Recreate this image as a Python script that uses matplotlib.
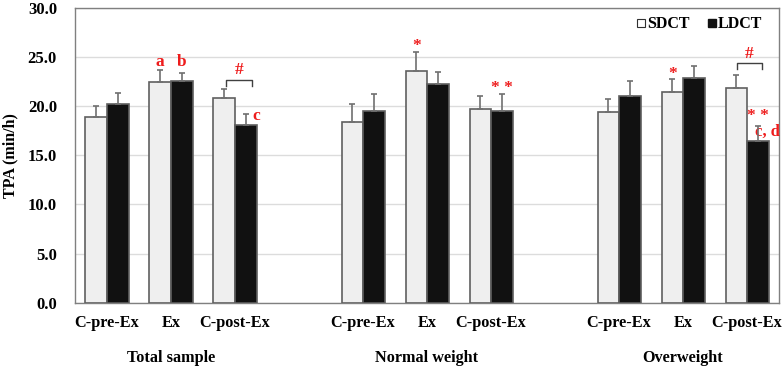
import matplotlib.pyplot as plt
import numpy as np
from matplotlib.lines import Line2D

plt.rcParams['font.family'] = ['Liberation Serif', 'DejaVu Serif']
plt.rcParams['font.weight'] = 'bold'

groups = ['Total sample', 'Normal weight', 'Overweight']
conditions = ['C-pre-Ex', 'Ex', 'C-post-Ex']

sdct_mean = [18.9, 22.5, 20.8, 18.4, 23.6, 19.7, 19.4, 21.45, 21.85]
sdct_err = [1.1, 1.15, 0.95, 1.8, 1.9, 1.4, 1.35, 1.3, 1.3]
ldct_mean = [20.2, 22.6, 18.05, 19.5, 22.3, 19.5, 21.0, 22.9, 16.5]
ldct_err = [1.2, 0.8, 1.15, 1.75, 1.2, 1.8, 1.6, 1.2, 1.45]

# slot positions: three conditions per group, one empty slot between groups
pos = np.array([g * 4 + c for g in range(3) for c in range(3)], dtype=float)
w = 0.336

fig = plt.figure(figsize=(7.82, 3.69), dpi=100)
ax = fig.add_axes([0.0959, 0.1797, 0.9003, 0.7983])

edge = '#606060'
err_kw = dict(ecolor='#707070', elinewidth=1.2, capsize=2.5, capthick=1.2)
ax.bar(pos - w / 2, sdct_mean, w, color='#efefef', edgecolor=edge, linewidth=1.2,
       yerr=[np.zeros(9), sdct_err], error_kw=err_kw, zorder=3)
ax.bar(pos + w / 2, ldct_mean, w, color='#111111', edgecolor=edge, linewidth=1.2,
       yerr=[np.zeros(9), ldct_err], error_kw=err_kw, zorder=3)

ax.set_xlim(-0.5, 10.5)
ax.set_ylim(0, 30)
ax.set_yticks(np.arange(0, 30.1, 5))
ax.set_yticklabels(['%.1f' % v for v in np.arange(0, 30.1, 5)])
ax.yaxis.grid(True, color='#dcdcdc', linewidth=1.0, zorder=0)
ax.set_axisbelow(True)
ax.set_xticks(pos)
ax.set_xticklabels(conditions * 3)
ax.tick_params(axis='y', length=0, pad=13, labelsize=12)
ax.tick_params(axis='x', length=0, pad=9, labelsize=11.7)
for s in ax.spines.values():
    s.set_color('#808080')
    s.set_linewidth(1.0)

for g, name in enumerate(groups):
    ax.text(g * 4 + 1, -0.187, name, transform=ax.get_xaxis_transform(),
            ha='center', va='center', fontsize=11.7, fontweight='bold')

ax.set_ylabel('TPA (min/h)', fontsize=11.5, fontweight='bold')
ax.yaxis.set_label_coords(-0.081, 0.5)

red = '#ee1c1c'
ann = dict(color=red, fontweight='bold', fontsize=12.5, ha='center', va='center')
ax.text(1 - w / 2, 24.5, 'a', **ann)
ax.text(1 + w / 2, 24.5, 'b', **ann)
ax.text(2.27, 19.0, 'c', **dict(ann, ha='left'))
ax.text(5 - w / 2, 26.1, '*', **ann)
ax.text(6 + w / 2, 21.9, '* *', **ann)
ax.text(9 - w / 2, 23.3, '*', **ann)
ax.text(10.17, 19.0, '* *', **ann)
ax.text(10.13, 17.4, 'c, d', **dict(ann, ha='left', fontsize=12))

# brackets for '#'
for x0, x1, y0, xt in [(1.855, 2.26, 22.7, 2.06), (9.84, 10.24, 24.4, 10.03)]:
    ax.plot([x0, x0, x1, x1], [y0 - 0.6, y0, y0, y0 - 0.6],
            color='#404040', linewidth=1.0, zorder=4)
    ax.text(xt, y0 + 0.95, '#', **ann)

handles = [Line2D([], [], marker='s', linestyle='none', markersize=5.5,
                  markerfacecolor='white', markeredgecolor='#303030', markeredgewidth=0.8),
           Line2D([], [], marker='s', linestyle='none', markersize=5.5,
                  markerfacecolor='#111111', markeredgecolor='#111111')]
ax.legend(handles, ['SDCT', 'LDCT'], loc='center right', ncol=2, frameon=False,
          handletextpad=0.0, handlelength=0.8, columnspacing=1.0,
          bbox_to_anchor=(0.997, 0.945), prop={'weight': 'bold', 'size': 11.5})

fig.savefig('out.png', dpi=100)
